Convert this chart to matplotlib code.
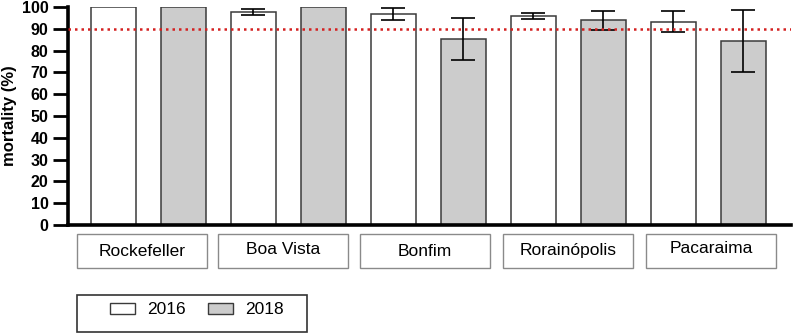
import numpy as np
import matplotlib.pyplot as plt
from matplotlib.patches import Rectangle, Patch

plt.rcParams['font.family'] = ['Liberation Sans', 'DejaVu Sans']

# data
sites = ['Rockefeller', 'Boa Vista', 'Bonfim', 'Rorainópolis', 'Pacaraima']
years = ['2016', '2018']
mort_2016 = [100, 97.7, 96.9, 95.7, 93.3]
err_2016 = [0, 1.4, 2.8, 1.4, 4.9]
mort_2018 = [100, 100, 85.3, 93.9, 84.4]
err_2018 = [0, 0, 9.7, 4.4, 14.4]
threshold = 90

W, H = 797, 334
fig = plt.figure(figsize=(W / 100, H / 100), dpi=100)
ax = fig.add_axes([68 / W, 1 - 225 / H, (791 - 68) / W, (225 - 7) / H])

x16 = np.arange(len(sites)) * 2
x18 = x16 + 1
edge = '#3a3a3a'
ax.bar(x16, mort_2016, width=0.65, color='white', edgecolor=edge, linewidth=1.1, zorder=2)
ax.bar(x18, mort_2018, width=0.65, color='#cccccc', edgecolor=edge, linewidth=1.1, zorder=2)

# error bars only where there is a spread
for xs, ys, es in [(x16, mort_2016, err_2016), (x18, mort_2018, err_2018)]:
    m = np.array(es) > 0
    ax.errorbar(xs[m], np.array(ys)[m], yerr=np.array(es)[m], fmt='none',
                ecolor='black', elinewidth=1.2, capsize=8.5, capthick=1.2, zorder=3)

ax.axhline(threshold, color='#d42020', linestyle=(0, (1, 1.6)), linewidth=1.8, zorder=4)

ax.set_xlim(-0.647, 9.68)
ax.set_ylim(0, 100)
ax.set_yticks(np.arange(0, 101, 10))
ax.set_xticks([])
for lab in ax.get_yticklabels():
    lab.set_fontweight('bold')
ax.tick_params(axis='y', length=11, width=2, labelsize=11.5, pad=3)
ax.spines['top'].set_visible(False)
ax.spines['right'].set_visible(False)
ax.spines['left'].set_linewidth(2.6)
ax.spines['bottom'].set_linewidth(2.6)
ax.set_ylabel('mortality (%)', fontsize=12, fontweight='bold')
ax.yaxis.set_label_coords(-51 / (791 - 68), 0.5)

# category boxes below the axis
box_left = [77, 218, 360, 503, 646]
box_text_y = [252, 249, 252, 251, 248.5]
for name, bx, ty in zip(sites, box_left, box_text_y):
    fig.add_artist(Rectangle((bx / W, 1 - 268 / H), 130 / W, 34 / H,
                             transform=fig.transFigure, facecolor='white',
                             edgecolor='#8a8a8a', linewidth=1))
    fig.text((bx + 65) / W, 1 - ty / H, name, ha='center', va='center', fontsize=12.5)

# legend in its own frame
fig.add_artist(Rectangle((77 / W, 1 - 332 / H), 230 / W, 37 / H,
                         transform=fig.transFigure, facecolor='white',
                         edgecolor='#333333', linewidth=1.2))
handles = [Patch(facecolor='white', edgecolor=edge, linewidth=1),
           Patch(facecolor='#cccccc', edgecolor=edge, linewidth=1)]
fig.legend(handles, years, loc='center', bbox_to_anchor=(197 / W, 1 - 310 / H),
           ncol=2, frameon=False, fontsize=12.5, handlelength=1.42, handleheight=0.62,
           handletextpad=0.7, columnspacing=1.3, borderpad=0)

fig.savefig('out.png', dpi=100)
